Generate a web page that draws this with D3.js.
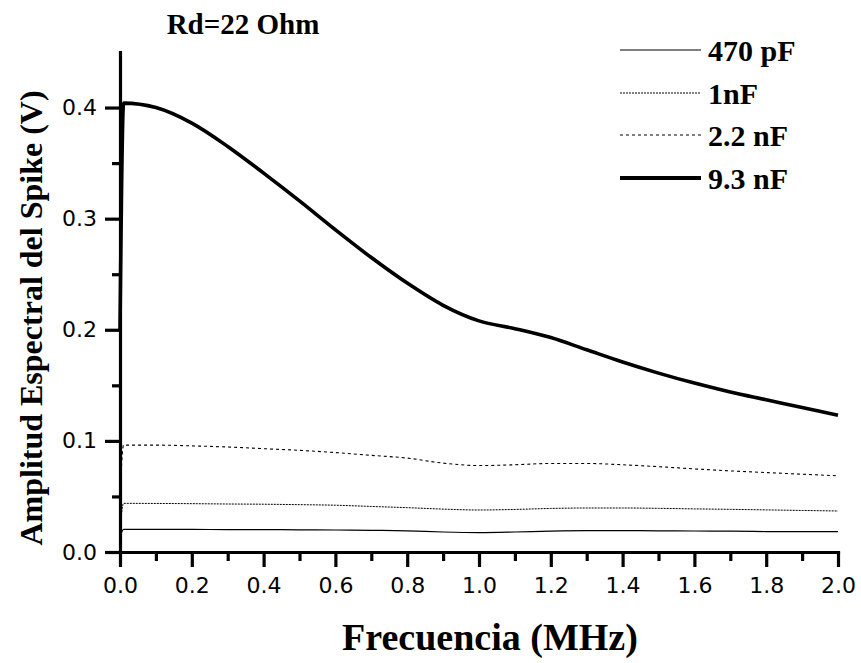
<!DOCTYPE html>
<html>
<head>
<meta charset="utf-8">
<script src="https://cdn.jsdelivr.net/npm/d3@7"></script>
<style>
  html, body { margin: 0; padding: 0; background: #fff; }
  svg { display: block; }
  .axis line, .axis path { stroke: #000; stroke-width: 3.2px; }
</style>
</head>
<body>
<svg id="chart" width="861" height="663"></svg>
<script>
// Frequency axis (MHz)
const freq = [0, 0.01, 0.1, 0.2, 0.3, 0.4, 0.5, 0.6, 0.7, 0.8, 0.9, 1.0,
              1.1, 1.2, 1.3, 1.4, 1.5, 1.6, 1.7, 1.8, 1.9, 2.0];

// Spectral amplitude (V) per capacitor value
const amp470pF = [0.0135, 0.0204, 0.0204, 0.0203, 0.0202, 0.0201, 0.0200, 0.0198, 0.0195, 0.0190, 0.0180, 0.0175,
                  0.0180, 0.0188, 0.0192, 0.0192, 0.0191, 0.0189, 0.0187, 0.0184, 0.0183, 0.0183];
const amp1nF   = [0.020, 0.0438, 0.0437, 0.0435, 0.0432, 0.0430, 0.0426, 0.0421, 0.0410, 0.0399, 0.0386, 0.0378,
                  0.0383, 0.0392, 0.0396, 0.0396, 0.0393, 0.0388, 0.0384, 0.0379, 0.0374, 0.0369];
const amp2_2nF = [0.050, 0.0962, 0.0962, 0.0955, 0.0945, 0.0930, 0.0915, 0.0895, 0.0870, 0.0845, 0.0800, 0.0778,
                  0.0785, 0.0797, 0.0797, 0.0785, 0.0768, 0.0748, 0.0730, 0.0715, 0.0700, 0.0686];
const amp9_3nF = [0.200, 0.404, 0.400, 0.386, 0.365, 0.341, 0.316, 0.290, 0.265, 0.242, 0.222, 0.208,
                  0.201, 0.193, 0.182, 0.171, 0.161, 0.152, 0.144, 0.137, 0.130, 0.123];

const seriesNames = ["470 pF", "1nF", "2.2 nF", "9.3 nF"];
const seriesValues = [amp470pF, amp1nF, amp2_2nF, amp9_3nF];

const xTicks = [0, 0.2, 0.4, 0.6, 0.8, 1.0, 1.2, 1.4, 1.6, 1.8, 2.0];
const yTicks = [0, 0.1, 0.2, 0.3, 0.4];

const titleText = "Rd=22 Ohm";
const xTitle = "Frecuencia (MHz)";
const yTitle = "Amplitud Espectral del Spike (V)";

// Line styles per series
const styles = [
  { width: 1.2, dash: null },
  { width: 1.0, dash: "2,1" },
  { width: 1.1, dash: "3,3" },
  { width: 3.6, dash: null }
];

const svg = d3.select("#chart");
const W = 861, H = 663;
const margin = { left: 120, right: 23, top: 52, bottom: 111 };

const x = d3.scaleLinear().domain([0, 2]).range([margin.left, W - margin.right]);
const y = d3.scaleLinear().domain([0, 0.45]).range([H - margin.bottom, margin.top]);

const tickFont = "'DejaVu Sans', sans-serif";
const serif = "'Liberation Serif', 'Times New Roman', serif";

// Minor ticks
svg.append("g").attr("class", "axis")
  .attr("transform", `translate(0,${y(0)})`)
  .call(d3.axisBottom(x).tickValues(d3.range(0.1, 2, 0.2)).tickSize(9).tickFormat("").tickSizeOuter(0))
  .call(g => g.select(".domain").remove());
svg.append("g").attr("class", "axis")
  .attr("transform", `translate(${x(0)},0)`)
  .call(d3.axisLeft(y).tickValues([0.05, 0.15, 0.25, 0.35]).tickSize(8).tickFormat("").tickSizeOuter(0))
  .call(g => g.select(".domain").remove());

// Major axes
const xAxis = svg.append("g").attr("class", "axis")
  .attr("transform", `translate(0,${y(0)})`)
  .call(d3.axisBottom(x).tickValues(xTicks).tickSize(15).tickSizeOuter(0).tickPadding(10).tickFormat(d3.format(".1f")));
const yAxis = svg.append("g").attr("class", "axis")
  .attr("transform", `translate(${x(0)},0)`)
  .call(d3.axisLeft(y).tickValues(yTicks).tickSize(15).tickSizeOuter(0).tickPadding(8).tickFormat(d3.format(".1f")));

[xAxis, yAxis].forEach(g => {
  g.select(".domain").attr("stroke-linecap", "square");
  g.selectAll(".tick text").attr("font-family", tickFont).attr("font-size", 22).attr("fill", "#000");
});

// Data lines
const line = d3.line()
  .x((d, i) => x(freq[i]))
  .y(d => y(d))
  .curve(d3.curveMonotoneX);

seriesValues.forEach((vals, k) => {
  svg.append("path")
    .datum(vals)
    .attr("fill", "none")
    .attr("stroke", "#000")
    .attr("stroke-width", styles[k].width)
    .attr("stroke-dasharray", styles[k].dash)
    .attr("stroke-linejoin", "round")
    .attr("d", line);
});

// Legend
const legendY = [50, 93, 135, 178];
const legend = svg.append("g");
seriesNames.forEach((name, k) => {
  legend.append("line")
    .attr("x1", 620).attr("x2", 701)
    .attr("y1", legendY[k]).attr("y2", legendY[k])
    .attr("stroke", "#000")
    .attr("stroke-width", k === 3 ? 4 : styles[k].width)
    .attr("stroke-dasharray", styles[k].dash);
  legend.append("text")
    .attr("x", 708).attr("y", legendY[k])
    .attr("dy", "0.35em")
    .attr("font-family", serif).attr("font-weight", "bold").attr("font-size", 30)
    .text(name);
});

// Titles
svg.append("text")
  .attr("x", 243).attr("y", 34)
  .attr("text-anchor", "middle")
  .attr("font-family", serif).attr("font-weight", "bold").attr("font-size", 29)
  .text(titleText);

svg.append("text")
  .attr("x", 490).attr("y", 650)
  .attr("text-anchor", "middle")
  .attr("font-family", serif).attr("font-weight", "bold").attr("font-size", 38)
  .text(xTitle);

svg.append("text")
  .attr("transform", "translate(42,318) rotate(-90)")
  .attr("text-anchor", "middle")
  .attr("font-family", serif).attr("font-weight", "bold").attr("font-size", 32)
  .text(yTitle);
</script>
</body>
</html>
